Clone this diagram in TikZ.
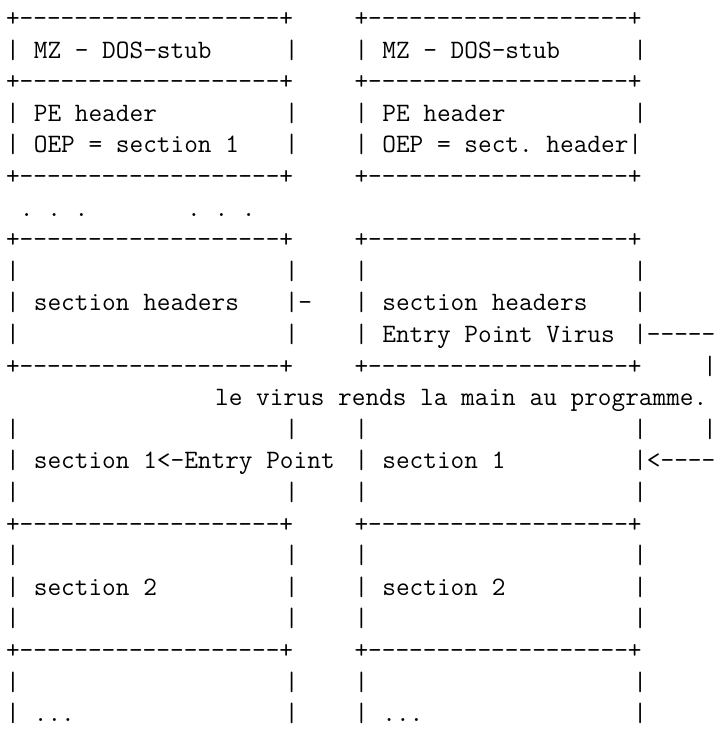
\documentclass[tikz,border=0pt]{standalone}
\usepackage{fontspec}
\begin{document}
\begin{tikzpicture}[x=1pt,y=1pt,
  txt/.style={anchor=base west,inner sep=0pt,outer sep=0pt,
    font=\fontsize{26.55}{31.6}\selectfont\ttfamily\frenchspacing}]
\useasboundingbox (0,0) rectangle (717,729);
\fill[white] (0,0) rectangle (717,729);
\newcommand\cell[4]{\node[txt] (#1) at ({6+13.94*(#2)},{702.5-31.6*(#3)}) {#4};}
\newcommand\hbord{+-------------------+}
% horizontal borders of both columns
\foreach \r in {0,2,5,7,11,16,20}{
  \cell{bl-\r}{0}{\r}{\hbord}
  \cell{br-\r}{25}{\r}{\hbord}
}
% vertical bars on plain rows
\foreach \r in {1,3,4,8,9,10,13,14,15,17,18,19,21,22}{
  \cell{vla-\r}{0}{\r}{|}
  \cell{vra-\r}{25}{\r}{|}
}
\foreach \r in {1,3,4,8,10,13,15,17,18,19,21,22}{
  \cell{vlb-\r}{20}{\r}{|}
}
\foreach \r in {1,3,8,9,13,15,17,18,19,21,22}{
  \cell{vrb-\r}{45}{\r}{|}
}
% texts
\cell{mzl}{2}{1}{MZ - DOS-stub}
\cell{mzr}{27}{1}{MZ - DOS-stub}
\cell{pel}{2}{3}{PE header}
\cell{per}{27}{3}{PE header}
\cell{oepl}{2}{4}{OEP = section 1}
\cell{oepr}{27}{4}{OEP = sect. header|}
\cell{dotsa}{1}{6}{. . .}
\cell{dotsb}{13}{6}{. . .}
\cell{shl}{2}{9}{section headers}
\cell{shlb}{20}{9}{|-}
\cell{shr}{27}{9}{section headers}
\cell{epv}{27}{10}{Entry Point Virus}
\cell{epvb}{45}{10}{|-----}
\cell{vret}{50}{11}{|}
\cell{msg}{15}{12}{le virus rends la main au programme.}
\cell{vret2}{50}{13}{|}
\cell{s1l}{2}{14}{section 1<-Entry Point}
\cell{s1r}{27}{14}{section 1}
\cell{s1rb}{45}{14}{|<----}
\cell{s2l}{2}{18}{section 2}
\cell{s2r}{27}{18}{section 2}
\cell{etl}{2}{22}{...}
\cell{etr}{27}{22}{...}
\end{tikzpicture}
\end{document}
